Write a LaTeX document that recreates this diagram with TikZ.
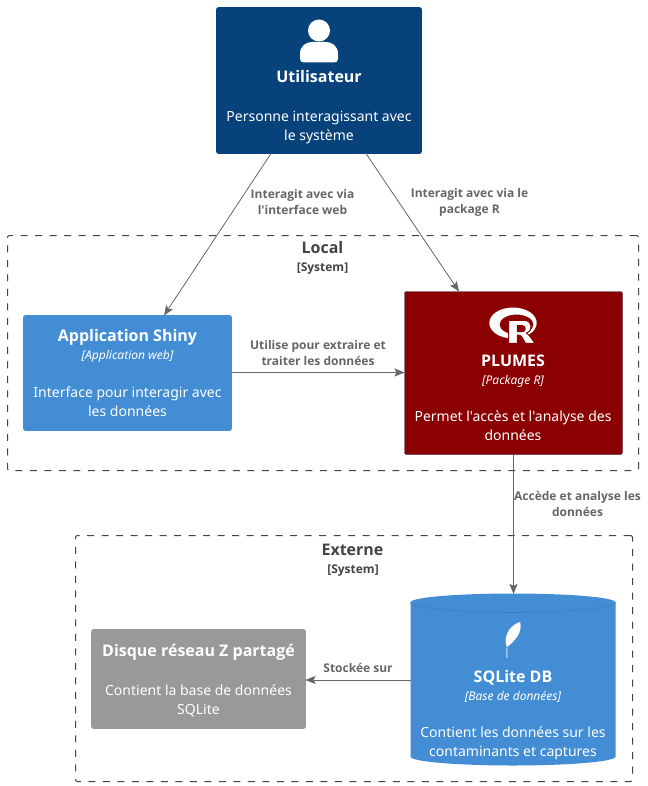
\documentclass[tikz,border=0pt]{standalone}
\usepackage{fontspec}
\setmainfont{Noto Sans}[BoldFont={Open Sans Bold}]
\newfontfamily\plainf{Noto Sans}[BoldFont={Open Sans Bold}]
\usetikzlibrary{arrows.meta}
\definecolor{navy}{HTML}{08427B}
\definecolor{cblue}{HTML}{438DD5}
\definecolor{dblue}{HTML}{3C7FC0}
\definecolor{rred}{HTML}{8B0000}
\definecolor{gbox}{HTML}{999999}
\definecolor{lin}{HTML}{666666}
\definecolor{bnd}{HTML}{444444}
\tikzset{
 every node/.style={outer sep=0pt},
 boxnode/.style={draw=#1,fill=#1,rounded corners=2pt,line width=.6pt,inner sep=0pt},
 ttl/.style={text=white,font=\plainf\fontsize{16}{19}\selectfont\bfseries,anchor=center,inner sep=0pt},
 typ/.style={text=white,font=\plainf\fontsize{12}{14}\selectfont\itshape,anchor=center,inner sep=0pt},
 dsc/.style={text=white,font=\plainf\fontsize{14}{19}\selectfont,anchor=center,align=center,inner sep=0pt},
 rel/.style={text=lin,font=\plainf\fontsize{12}{16}\selectfont\bfseries,anchor=center,align=center,inner sep=0pt},
 bndbox/.style={draw=bnd,dash pattern=on 7pt off 7.5pt,line width=1pt,rounded corners=2pt,inner sep=0pt},
 bndt/.style={text=bnd,font=\plainf\fontsize{16}{19}\selectfont\bfseries,anchor=center,inner sep=0pt},
 bnds/.style={text=bnd,font=\plainf\fontsize{12}{14}\selectfont\bfseries,anchor=center,inner sep=0pt},
 conn/.style={draw=lin,line width=.8pt,-{Stealth[length=10pt,width=8pt,inset=2pt]},shorten >=0pt}
}
\newcommand{\bx}[5]{\node[boxnode=#5,minimum width=#3 pt,minimum height=#4 pt,anchor=north west] (#1) at (#2) {};}
\begin{document}
\begin{tikzpicture}[x=1pt,y=-1pt]
\useasboundingbox (0,0) rectangle (647,786);
\fill[white] (0,0) rectangle (647,786);
% boundaries
\node[bndbox,minimum width=631pt,minimum height=235pt,anchor=north west] (local) at (7.5,235.5) {};
\node[bndbox,minimum width=557pt,minimum height=246pt,anchor=north west] (ext) at (75.5,535.5) {};
\node[bndt] (localt) at (322.5,247.5) {Local};
\node[bnds] (locals) at (322.5,268.5) {[System]};
\node[bndt] (extt) at (352.5,549.5) {Externe};
\node[bnds] (exts) at (353,570.5) {[System]};
% boxes
\bx{user}{216.5,7.5}{205}{146}{navy}
\bx{shiny}{23.5,315.5}{208}{115}{cblue}
\node[draw=navy!70!rred,fill=rred,rounded corners=2pt,line width=.4pt,inner sep=0pt,minimum width=218pt,minimum height=163pt,anchor=north west] (plumes) at (404.5,291.5) {};
\bx{disk}{91.5,629.5}{214}{99}{gbox}
% cylinder
\fill[cblue] (410.5,602.5) .. controls (410.5,597) and (461,593.5) .. (513,593.5) .. controls (565,593.5) and (615.5,597) .. (615.5,602.5) -- (615.5,756.5) .. controls (615.5,762) and (565,765.5) .. (513,765.5) .. controls (461,765.5) and (410.5,762) .. (410.5,756.5) -- cycle;
\draw[dblue,line width=.6pt] (410.5,602.5) .. controls (410.5,608) and (461,612.5) .. (513,612.5) .. controls (565,612.5) and (615.5,608) .. (615.5,602.5);
\coordinate (dbtop) at (513.5,594);
\coordinate (dbleft) at (410.5,680);
\coordinate (diskr) at (305.5,680);
% person icon
\fill[white] (319,30.5) circle (11pt);
\fill[white] (300,59) -- (300,54) .. controls (300,46) and (306,42) .. (312,42) -- (326,42) .. controls (332,42) and (338,46) .. (338,54) -- (338,59) .. controls (338,61.5) and (336,62.5) .. (334,62.5) -- (304,62.5) .. controls (302,62.5) and (300,61.5) .. (300,59) -- cycle;
% R logo
\fill[white,even odd rule] (513,323) ellipse (23.7pt and 15.5pt) (516.5,324.5) ellipse (17pt and 10pt);
\fill[rred] (508.7,339) rectangle (540,346);
\fill[rred] (517.3,332) rectangle (527,346);
\draw[rred,line width=1pt,fill=white,even odd rule] (508.7,320.3) -- (524,320.3) .. controls (533,320.3) and (533,331) .. (526.5,333) .. controls (528,334) and (529,335) .. (530,336.5) -- (535,343.3) -- (525.5,343.3) -- (521.5,336.5) .. controls (520.5,335.5) and (519.5,335) .. (517.3,335) -- (517.3,343.3) -- (508.7,343.3) -- cycle
 (517.3,325.7) -- (517.3,331.7) -- (522.5,331.7) .. controls (526,331.7) and (526,325.7) .. (522.5,325.7) -- cycle;
% feather
\fill[white] (506.3,646) .. controls (505,641) and (505.5,636) .. (509,630) .. controls (512,626) and (516,623) .. (520,622) .. controls (521.5,626) and (520.5,632) .. (517,637) .. controls (514,641) and (510,645) .. (507.7,646.5) -- cycle;
\draw[white!80!cblue,line width=.9pt] (507,644) -- (506.8,658);
% text
\node[ttl] (ut) at (319,76.5) {Utilisateur};
\node[dsc] (ud) at (319,127.5) {Personne interagissant avec\\le système};
\node[ttl] (st) at (127.5,337.5) {Application Shiny};
\node[typ] (sy) at (127.5,356.5) {[Application web]};
\node[dsc] (sd) at (127.5,402) {Interface pour interagir avec\\les données};
\node[ttl] (pt) at (513,360.5) {PLUMES};
\node[typ] (py) at (513,381) {[Package R]};
\node[dsc] (pd) at (513,426) {Permet l'accès et l'analyse des\\données};
\node[ttl] (dt) at (198.5,652.5) {Disque réseau Z partagé};
\node[dsc] (dd) at (198.5,701) {Contient la base de données\\SQLite};
\node[ttl] (qt) at (513,677.5) {SQLite DB};
\node[typ] (qy) at (513,696.5) {[Base de données]};
\node[dsc] (qd) at (513,743) {Contient les données sur les\\contaminants et captures};
% connectors
\coordinate (ua) at (271,153.5);
\coordinate (ub) at (366,153.5);
\coordinate (sa) at (164,315.5);
\coordinate (pa) at (459,291.5);
\draw[conn] (ua) -- (sa);
\draw[conn] (ub) -- (pa);
\draw[conn] (shiny.east|-0,372.5) -- (plumes.west|-0,372.5);
\draw[conn] (plumes.south-|dbtop) -- (dbtop);
\draw[conn] (dbleft) -- (diskr);
\node[rel] (l1) at (302.5,202) {Interagit avec via\\l'interface web};
\node[rel] (l2) at (469.5,202) {Interagit avec via le\\package R};
\node[rel] (l3) at (318,353) {Utilise pour extraire et\\traiter les données};
\node[rel] (l4) at (577.5,504) {Accède et analyse les\\données};
\node[rel] (l5) at (358,668) {Stockée sur};
\end{tikzpicture}
\end{document}
